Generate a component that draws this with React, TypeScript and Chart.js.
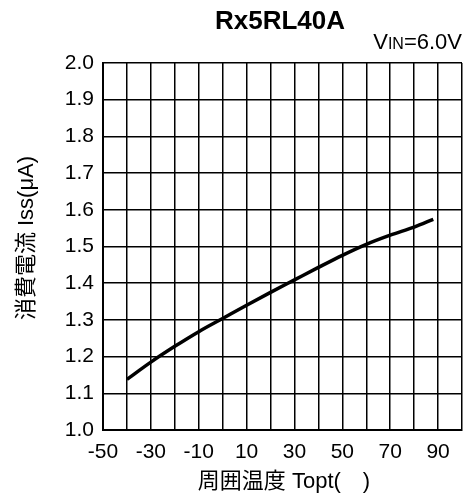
import React, { useEffect, useRef } from "react";
import { Chart, registerables } from "chart.js";

Chart.register(...registerables);

const chartTitle = "Rx5RL40A";
const conditionMain = "V";
const conditionSub = "IN";
const conditionRest = "=6.0V";
const xAxisTitle = "周囲温度 Topt(　)";
const yAxisTitle = "消費電流 Iss(μA)";

const temperatures = [-40, -30, -20, -10, 0, 10, 20, 30, 40, 50, 60, 70, 80, 88];
const supplyCurrent = [1.138, 1.185, 1.228, 1.268, 1.304, 1.34, 1.375, 1.409, 1.443, 1.476, 1.506, 1.531, 1.553, 1.574];
const xTickLabels = [-50, -30, -10, 10, 30, 50, 70, 90];
const xMin = -50;
const xMax = 100;
const yMin = 1.0;
const yMax = 2.0;

const FONT = "'Liberation Sans', Arial, 'Noto Sans CJK JP', sans-serif";

const textPlugin = {
  id: "textPlugin",
  afterDraw(chart: any) {
    const ctx = chart.ctx as CanvasRenderingContext2D;
    const area = chart.chartArea;
    ctx.save();
    ctx.fillStyle = "#000";
    // Title
    ctx.font = `bold 26px ${FONT}`;
    ctx.textAlign = "center";
    ctx.textBaseline = "alphabetic";
    ctx.fillText(chartTitle, 280, 29);
    // Condition text, right aligned with small "IN"
    ctx.textAlign = "left";
    ctx.font = `22px ${FONT}`;
    const wMain = ctx.measureText(conditionMain).width;
    const wRest = ctx.measureText(conditionRest).width;
    ctx.font = `16px ${FONT}`;
    const wSub = ctx.measureText(conditionSub).width;
    let x = area.right - (wMain + wSub + wRest);
    const base = 49;
    ctx.font = `22px ${FONT}`;
    ctx.fillText(conditionMain, x, base);
    x += wMain;
    ctx.font = `16px ${FONT}`;
    ctx.fillText(conditionSub, x, base);
    x += wSub;
    ctx.font = `22px ${FONT}`;
    ctx.fillText(conditionRest, x, base);
    // X axis title
    ctx.font = `22px ${FONT}`;
    ctx.textAlign = "center";
    ctx.textBaseline = "middle";
    ctx.fillText(xAxisTitle, 284, 482);
    // Y axis title
    ctx.translate(27, 238);
    ctx.rotate(-Math.PI / 2);
    ctx.font = `22px ${FONT}`;
    ctx.fillText(yAxisTitle, 0, 0);
    ctx.restore();
  },
};

export default function App() {
  const canvasRef = useRef<HTMLCanvasElement | null>(null);

  useEffect(() => {
    if (!canvasRef.current) return;
    const chart = new Chart(canvasRef.current, {
      type: "line",
      data: {
        datasets: [
          {
            data: temperatures.map((t, i) => ({ x: t, y: supplyCurrent[i] })),
            borderColor: "#000",
            borderWidth: 3.5,
            pointRadius: 0,
            cubicInterpolationMode: "monotone",
            fill: false,
          },
        ],
      },
      options: {
        responsive: false,
        animation: false,
        events: [],
        layout: { padding: { top: 63, right: 4, left: 0, bottom: 0 } },
        plugins: {
          legend: { display: false },
          title: { display: false },
          tooltip: { enabled: false },
        },
        scales: {
          x: {
            type: "linear",
            min: xMin,
            max: xMax,
            afterFit: (s: any) => {
              s.height = 66;
            },
            grid: { color: "#000", lineWidth: 1.5, drawTicks: false },
            border: { color: "#000", width: 2 },
            ticks: {
              stepSize: 10,
              autoSkip: false,
              maxRotation: 0,
              padding: 10,
              color: "#000",
              font: { family: FONT, size: 21 },
              callback: (v: any) => (xTickLabels.includes(Number(v)) ? String(v) : ""),
            },
          },
          y: {
            type: "linear",
            min: yMin,
            max: yMax,
            afterFit: (s: any) => {
              s.width = 103;
            },
            grid: { color: "#000", lineWidth: 1.5, drawTicks: false },
            border: { color: "#000", width: 2 },
            ticks: {
              stepSize: 0.1,
              autoSkip: false,
              padding: 9,
              color: "#000",
              font: { family: FONT, size: 21 },
              callback: (v: any) => Number(v).toFixed(1),
            },
          },
        },
      },
      plugins: [textPlugin],
    } as any);
    return () => chart.destroy();
  }, []);

  return (
    <div style={{ position: "fixed", left: 0, top: 0, width: 472, height: 496, background: "#fff" }}>
      <canvas ref={canvasRef} width={472} height={496} />
    </div>
  );
}
